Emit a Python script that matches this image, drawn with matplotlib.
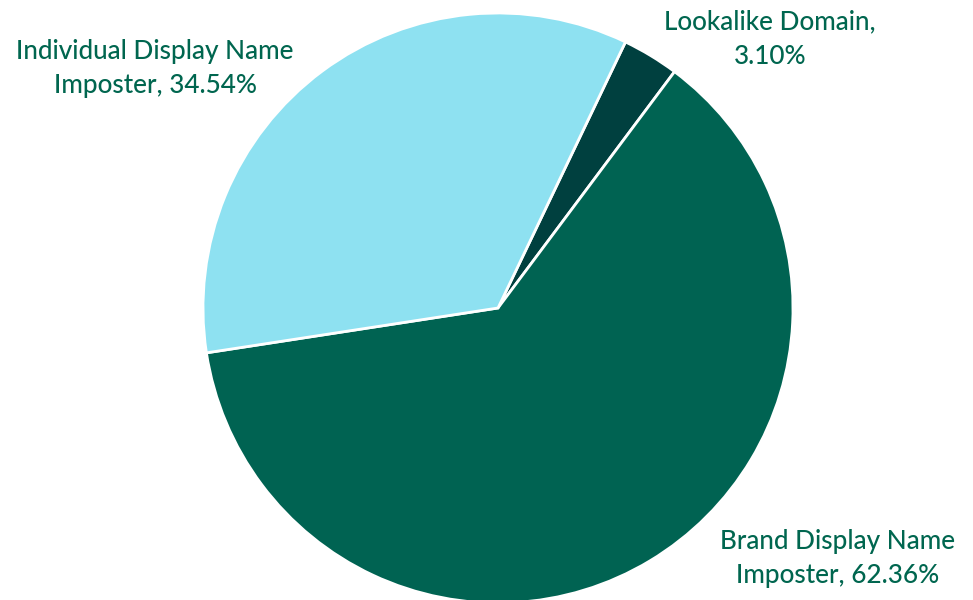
import matplotlib.pyplot as plt

# данные
labels = ["Lookalike Domain", "Brand Display Name Imposter", "Individual Display Name Imposter"]
shares = [3.10, 62.36, 34.54]
colors = ["#00403F", "#006352", "#8EE1F1"]

text_color = "#00664F"

fig = plt.figure(figsize=(9.73, 6), dpi=100)
ax = fig.add_axes([0, 0, 1, 1])

ax.pie(shares, colors=colors, startangle=64.4, counterclock=False,
       center=(498, 292), radius=295, frame=True,
       wedgeprops={"edgecolor": "white", "linewidth": 2})
ax.set_xlim(0, 973)
ax.set_ylim(0, 600)
ax.set_aspect("equal")
ax.axis("off")

# подписи
label_texts = [
    "Lookalike Domain,\n%.2f%%" % shares[0],
    "Brand Display Name\nImposter, %.2f%%" % shares[1],
    "Individual Display Name\nImposter, %.2f%%" % shares[2],
]
label_pos = [(770, 561), (838, 41), (155, 531)]
for txt, (x, y) in zip(label_texts, label_pos):
    ax.text(x, y, txt, ha="center", va="center", fontsize=18.8, family="Lato",
            fontweight="medium", color=text_color, linespacing=1.45)

fig.savefig("out.png", dpi=100)
